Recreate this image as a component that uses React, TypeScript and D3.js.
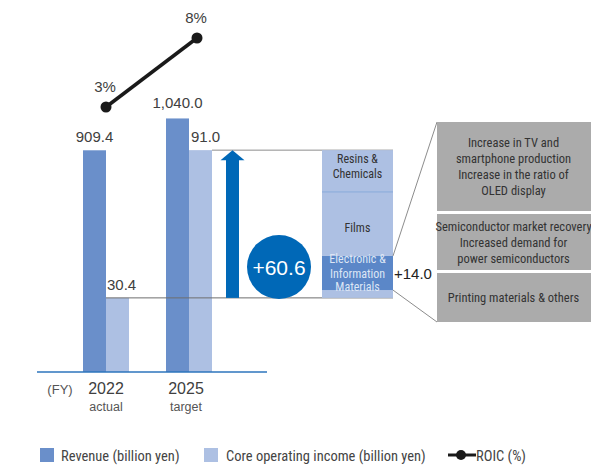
import React from "react";
import * as d3 from "d3";

const years = ["2022", "2025"];
const yearSub = ["actual", "target"];
const revenue = [909.4, 1040.0];
const coreIncome = [30.4, 91.0];
const roic = [3, 8];
const revenueLabels = ["909.4", "1,040.0"];
const coreLabels = ["30.4", "91.0"];
const roicLabels = ["3%", "8%"];

const segNames = ["Others", "Electronic & Information Materials", "Films", "Resins & Chemicals"];
const segValues = [3.2, 14.0, 26.3, 17.1];
const increaseLabel = "+60.6";
const elecLabel = "+14.0";

const boxTexts = [
  ["Increase in TV and", "smartphone production", "Increase in the ratio of", "OLED display"],
  ["Semiconductor market recovery", "Increased demand for", "power semiconductors"],
  ["Printing materials & others"],
];

const legendItems = ["Revenue (billion yen)", "Core operating income (billion yen)", "ROIC (%)"];

const W = 591;
const H = 465;
const BASE = 372;
const K = 0.2438; // px per revenue unit

const C_REV = "#6a8fca";
const C_CORE = "#adc0e3";
const C_DARK = "#0068b7";
const C_ELEC = "#5b87c8";
const C_GRAY = "#ababab";
const TXT = "#404040";
const COND = "'Liberation Sans Narrow', 'Arial Narrow', 'Roboto Condensed', sans-serif";
const SANS = "'Liberation Sans', Arial, Helvetica, sans-serif";

export default function App() {
  const x = d3.scalePoint<string>().domain(years).range([106, 189]);
  const xRoic = d3.scalePoint<string>().domain(years).range([106, 197]);
  const yRev = d3.scaleLinear().domain([0, 1000]).range([BASE, BASE - 1000 * K]);
  const yCore = d3.scaleLinear().domain([0, 100]).range([BASE, BASE - 1000 * K]);
  const yRoic = d3.scaleLinear().domain([0, 10]).range([148.4, 10.4]);
  const bw = 23;

  const line = d3
    .line<number>()
    .x((_, i) => xRoic(years[i])!)
    .y((d) => yRoic(d));

  let acc = coreIncome[0];
  const segs = segValues.map((v, i) => {
    const s = { name: segNames[i], y0: acc, y1: acc + v };
    acc += v;
    return s;
  });
  const stackX0 = 322;
  const stackX1 = 393;
  const elec = segs[1];
  const yTop = yCore(coreIncome[1]);
  const yLow = yCore(coreIncome[0]);

  const boxX = 437;
  const boxes = [
    { y0: 122, y1: 211 },
    { y0: 214, y1: 270 },
    { y0: 273, y1: 322 },
  ];

  const arrowX = 232.5;

  return (
    <svg
      width={W}
      height={H}
      style={{ position: "absolute", left: 0, top: 0, background: "#fff" }}
    >
      {years.map((yr, i) => (
        <g key={yr}>
          <rect x={x(yr)! - bw} y={yRev(revenue[i])} width={bw} height={BASE - yRev(revenue[i])} fill={C_REV} />
          <rect x={x(yr)!} y={yCore(coreIncome[i])} width={bw} height={BASE - yCore(coreIncome[i])} fill={C_CORE} />
        </g>
      ))}

      <line x1={x(years[1])! + bw} x2={stackX1} y1={yTop} y2={yTop} stroke="#8c8c8c" strokeWidth={1} />
      <line x1={x(years[0])!} x2={stackX1} y1={yLow} y2={yLow} stroke="#6e6e6e" strokeWidth={1} />

      <line x1={37} x2={267} y1={BASE} y2={BASE} stroke="#2c74bd" strokeWidth={1.5} />

      <rect x={arrowX - 6.5} y={yTop + 9} width={13} height={yLow - yTop - 9} fill={C_DARK} />
      <path
        d={`M${arrowX},${yTop} L${arrowX + 12},${yTop + 10} L${arrowX - 12},${yTop + 10} Z`}
        fill={C_DARK}
      />

      <circle cx={279} cy={267} r={32} fill={C_DARK} />
      <text x={279} y={274.5} textAnchor="middle" fill="#fff" fontFamily={SANS} fontSize={21}>
        {increaseLabel}
      </text>

      {segs.map((s, i) => (
        <rect
          key={s.name}
          x={stackX0}
          y={yCore(s.y1)}
          width={stackX1 - stackX0}
          height={yCore(s.y0) - yCore(s.y1)}
          fill={i === 1 ? C_ELEC : C_CORE}
        />
      ))}
      <line x1={stackX0} x2={stackX1} y1={yCore(segs[3].y0)} y2={yCore(segs[3].y0)} stroke="#8eacdb" strokeWidth={1.2} />
      <text fontFamily={COND} fontSize={12} fill="#333" textAnchor="middle">
        <tspan x={357.5} y={163}>Resins &amp;</tspan>
        <tspan x={357.5} y={178}>Chemicals</tspan>
        <tspan x={357.5} y={232}>Films</tspan>
      </text>
      <text fontFamily={COND} fontSize={12} fill="#dde6f5" textAnchor="middle">
        <tspan x={357.5} y={263}>Electronic &amp;</tspan>
        <tspan x={357.5} y={277.5}>Information</tspan>
        <tspan x={357.5} y={291}>Materials</tspan>
      </text>
      <text x={394} y={278.5} fontFamily={SANS} fontSize={15} fill="#222">
        {elecLabel}
      </text>

      <line x1={stackX1} y1={yCore(elec.y1)} x2={boxX} y2={boxes[0].y0} stroke="#8c8c8c" strokeWidth={1} />
      <line x1={stackX1} y1={yCore(elec.y0)} x2={boxX} y2={boxes[2].y1} stroke="#8c8c8c" strokeWidth={1} />

      {boxes.map((b, i) => {
        const n = boxTexts[i].length;
        const cy = (b.y0 + b.y1) / 2;
        const lh = 16;
        return (
          <g key={i}>
            <rect x={boxX} y={b.y0} width={W - boxX} height={b.y1 - b.y0} fill={C_GRAY} />
            <text fontFamily={COND} fontSize={12.5} fill="#333" textAnchor="middle">
              {boxTexts[i].map((t, j) => (
                <tspan key={j} x={513.5} y={cy - ((n - 1) * lh) / 2 + j * lh + 4.5}>
                  {t}
                </tspan>
              ))}
            </text>
          </g>
        );
      })}

      <path d={line(roic)!} fill="none" stroke="#1a1a1a" strokeWidth={3.5} />
      {roic.map((v, i) => (
        <g key={i}>
          <circle cx={xRoic(years[i])} cy={yRoic(v)} r={5.5} fill="#1a1a1a" />
          <text x={xRoic(years[i])! - 1} y={yRoic(v) - 15} textAnchor="middle" fontFamily={SANS} fontSize={15} fill={TXT}>
            {roicLabels[i]}
          </text>
        </g>
      ))}

      {years.map((yr, i) => (
        <g key={"l" + yr} fontFamily={SANS} fontSize={15} fill={TXT}>
          <text x={x(yr)! - bw / 2} y={yRev(revenue[i]) - (i === 0 ? 8 : 10)} textAnchor="middle">
            {revenueLabels[i]}
          </text>
          <text x={x(yr)! + (i === 0 ? 1 : 2)} y={yCore(coreIncome[i]) - 8}>
            {coreLabels[i]}
          </text>
        </g>
      ))}

      <text x={60} y={394} textAnchor="middle" fontFamily={SANS} fontSize={13} fill="#555">(FY)</text>
      {years.map((yr, i) => (
        <g key={"x" + yr}>
          <text x={x(yr)! - (i === 1 ? 3 : 0)} y={394} textAnchor="middle" fontFamily={SANS} fontSize={16} fill={TXT}>
            {yr}
          </text>
          <text x={x(yr)! - (i === 1 ? 3 : 0)} y={410.5} textAnchor="middle" fontFamily={SANS} fontSize={12.5} fill="#555">
            {yearSub[i]}
          </text>
        </g>
      ))}

      <g fontFamily={COND} fontSize={14.5} fill="#444">
        <rect x={40} y={448} width={14} height={14} fill={C_REV} />
        <text x={61} y={460.5}>{legendItems[0]}</text>
        <rect x={204} y={448} width={14} height={14} fill={C_CORE} />
        <text x={226} y={460.5}>{legendItems[1]}</text>
        <line x1={448} x2={476} y1={455} y2={455} stroke="#1a1a1a" strokeWidth={3} />
        <circle cx={461} cy={455} r={5} fill="#1a1a1a" />
        <text x={476} y={460.5}>{legendItems[2]}</text>
      </g>
    </svg>
  );
}
